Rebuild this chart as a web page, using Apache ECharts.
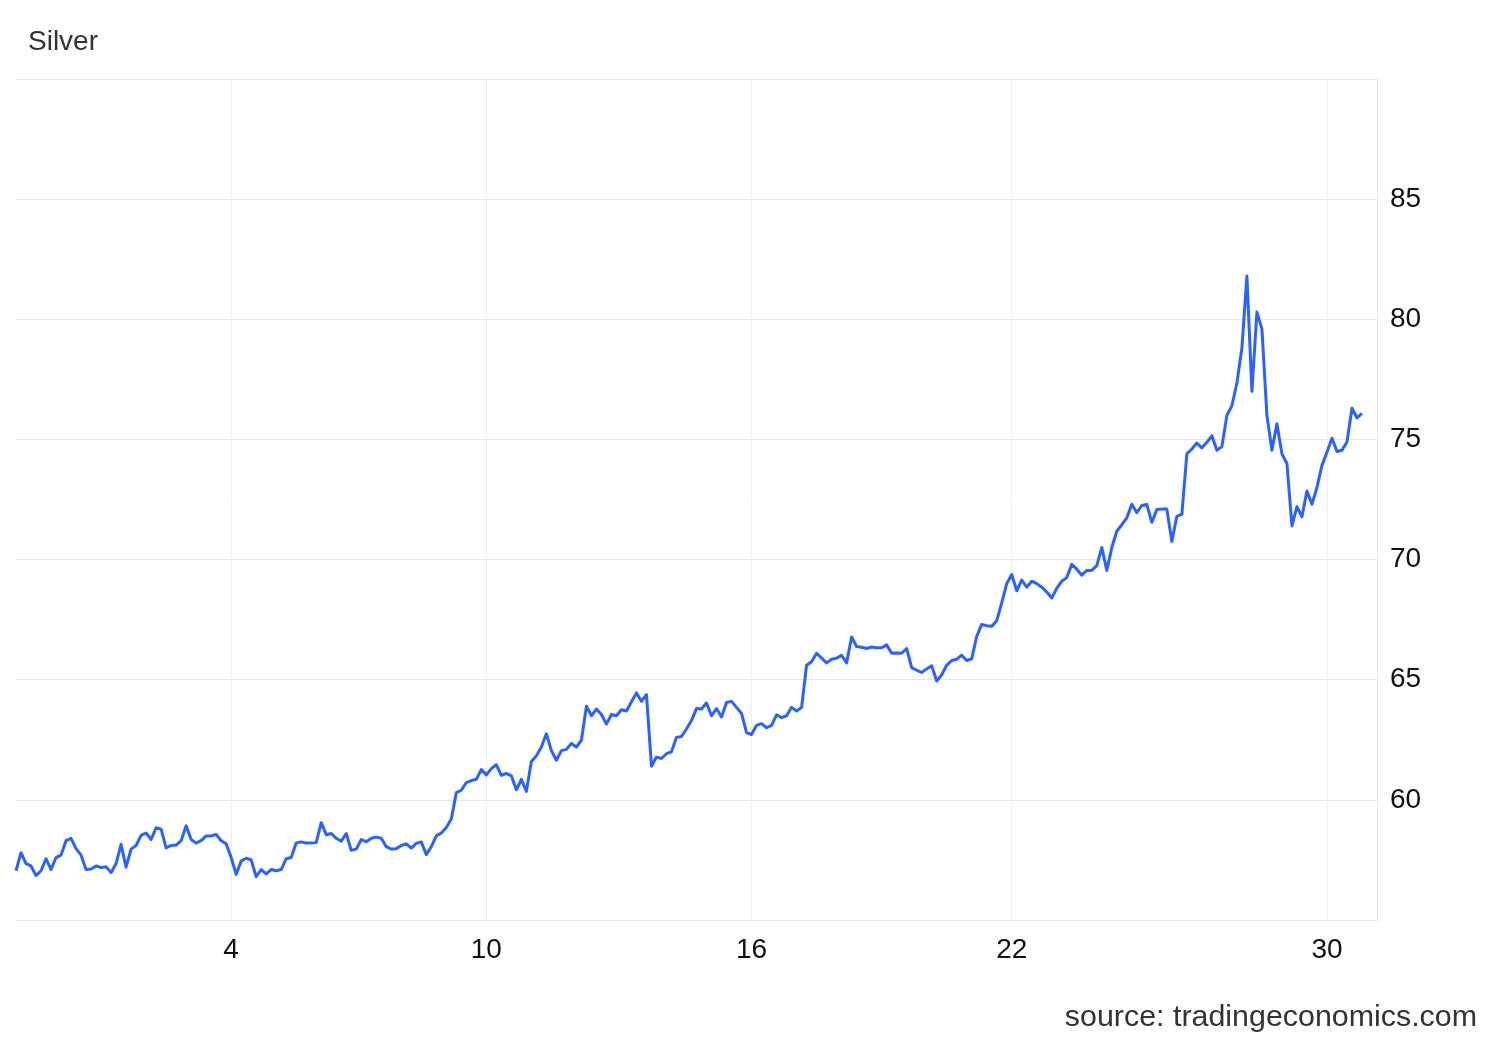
<!DOCTYPE html>
<html>
<head>
<meta charset="utf-8">
<script src="https://cdn.jsdelivr.net/npm/echarts@6/dist/echarts.min.js"></script>
<style>
html,body{margin:0;padding:0;background:#fff;}
#chart{width:1500px;height:1040px;}
</style>
</head>
<body>
<div id="chart"></div>
<script>
// Silver price samples (USD/oz), evenly spaced trading-time samples, December
const silverPrices = [
57.05,57.8,57.35,57.25,56.85,57.05,57.55,57.1,57.6,57.7,
58.3,58.4,57.97,57.7,57.1,57.12,57.25,57.18,57.22,56.97,
57.35,58.15,57.2,57.95,58.1,58.52,58.62,58.35,58.84,58.78,
58.0,58.1,58.12,58.3,58.92,58.35,58.2,58.3,58.5,58.5,
58.56,58.3,58.17,57.6,56.9,57.45,57.57,57.5,56.8,57.1,
56.92,57.1,57.05,57.1,57.55,57.6,58.2,58.25,58.2,58.2,
58.22,59.05,58.55,58.6,58.4,58.28,58.6,57.9,57.95,58.35,
58.26,58.4,58.45,58.4,58.05,57.95,57.97,58.1,58.17,57.99,
58.19,58.25,57.72,58.05,58.5,58.62,58.85,59.2,60.3,60.4,
60.72,60.8,60.86,61.26,61.04,61.3,61.46,61.02,61.1,61.0,
60.42,60.85,60.35,61.6,61.83,62.2,62.75,62.05,61.65,62.05,
62.1,62.35,62.2,62.48,63.9,63.5,63.78,63.55,63.15,63.55,
63.5,63.75,63.7,64.08,64.45,64.1,64.38,61.4,61.78,61.72,
61.92,62.0,62.6,62.64,62.95,63.3,63.8,63.78,64.03,63.5,
63.8,63.45,64.05,64.1,63.85,63.6,62.8,62.72,63.1,63.17,
63.0,63.1,63.54,63.42,63.5,63.85,63.7,63.84,65.6,65.75,
66.1,65.9,65.7,65.85,65.9,66.02,65.7,66.78,66.38,66.35,
66.3,66.36,66.33,66.33,66.45,66.1,66.11,66.1,66.3,65.5,
65.4,65.3,65.45,65.58,64.95,65.2,65.6,65.8,65.85,66.02,
65.8,65.87,66.8,67.3,67.25,67.22,67.45,68.2,69.0,69.38,
68.7,69.15,68.85,69.1,69.0,68.85,68.65,68.4,68.8,69.1,
69.25,69.8,69.6,69.35,69.55,69.55,69.75,70.5,69.55,70.5,
71.18,71.45,71.74,72.3,71.95,72.25,72.29,71.55,72.08,72.1,
72.1,70.75,71.8,71.88,74.4,74.6,74.85,74.65,74.88,75.15,
74.55,74.7,76.0,76.4,77.35,78.8,81.8,77.0,80.3,79.6,
76.0,74.55,75.65,74.4,74.0,71.4,72.2,71.78,72.85,72.3,
73.0,73.92,74.47,75.05,74.5,74.55,74.89,76.3,75.9,76.08
];
// total sample slots on the time axis (trailing slots have no data yet)
const totalSlots = 273;
// day-of-month tick labels and the sample slot where each day's tick falls
const tickLabels = ['4','10','16','22','30'];
const tickSlots = [43, 94, 147, 199, 262];
// value axis
const yMin = 55, yMax = 90, yStep = 5;

const categories = [];
for (let i = 0; i < totalSlots; i++) {
  const k = tickSlots.indexOf(i);
  categories.push(k >= 0 ? tickLabels[k] : '');
}
const seriesData = categories.map((c, i) => (i < silverPrices.length ? silverPrices[i] : null));
const isTick = (idx) => tickSlots.indexOf(idx) >= 0;

const FONT = '"Liberation Sans", Arial, Helvetica, sans-serif';
const chart = echarts.init(document.getElementById('chart'), null, {renderer: 'canvas'});
chart.setOption({
  animation: false,
  backgroundColor: '#ffffff',
  title: {
    text: 'Silver',
    left: 23,
    top: 23,
    textStyle: {fontFamily: FONT, fontSize: 28, fontWeight: 'normal', color: '#333333'}
  },
  graphic: [{
    type: 'text',
    right: 23,
    top: 1003,
    style: {text: 'source: tradingeconomics.com', font: '30.4px ' + FONT, fill: '#333333'}
  }],
  grid: {left: 16, right: 123, top: 79, bottom: 120, containLabel: false},
  xAxis: {
    type: 'category',
    data: categories,
    boundaryGap: false,
    axisLine: {show: false},
    axisTick: {show: false},
    axisLabel: {
      interval: (idx) => isTick(idx),
      fontFamily: FONT, fontSize: 28, color: '#111111', margin: 16
    },
    splitLine: {show: true, interval: (idx) => isTick(idx), lineStyle: {color: '#edf0f3', width: 1}}
  },
  yAxis: {
    type: 'value',
    position: 'right',
    min: yMin, max: yMax, interval: yStep,
    axisLine: {show: true, lineStyle: {color: '#e6e6e6'}},
    axisTick: {show: false},
    axisLabel: {
      showMinLabel: false, showMaxLabel: false,
      fontFamily: FONT, fontSize: 28, color: '#111111', margin: 13
    },
    splitLine: {show: true, lineStyle: {color: '#e6e6e6', width: 1}}
  },
  series: [{
    type: 'line',
    data: seriesData,
    showSymbol: false,
    symbol: 'none',
    smooth: false,
    connectNulls: false,
    lineStyle: {color: '#2962ff', width: 3, join: 'round'},
    itemStyle: {color: '#2962ff'}
  }]
});
</script>
</body>
</html>
